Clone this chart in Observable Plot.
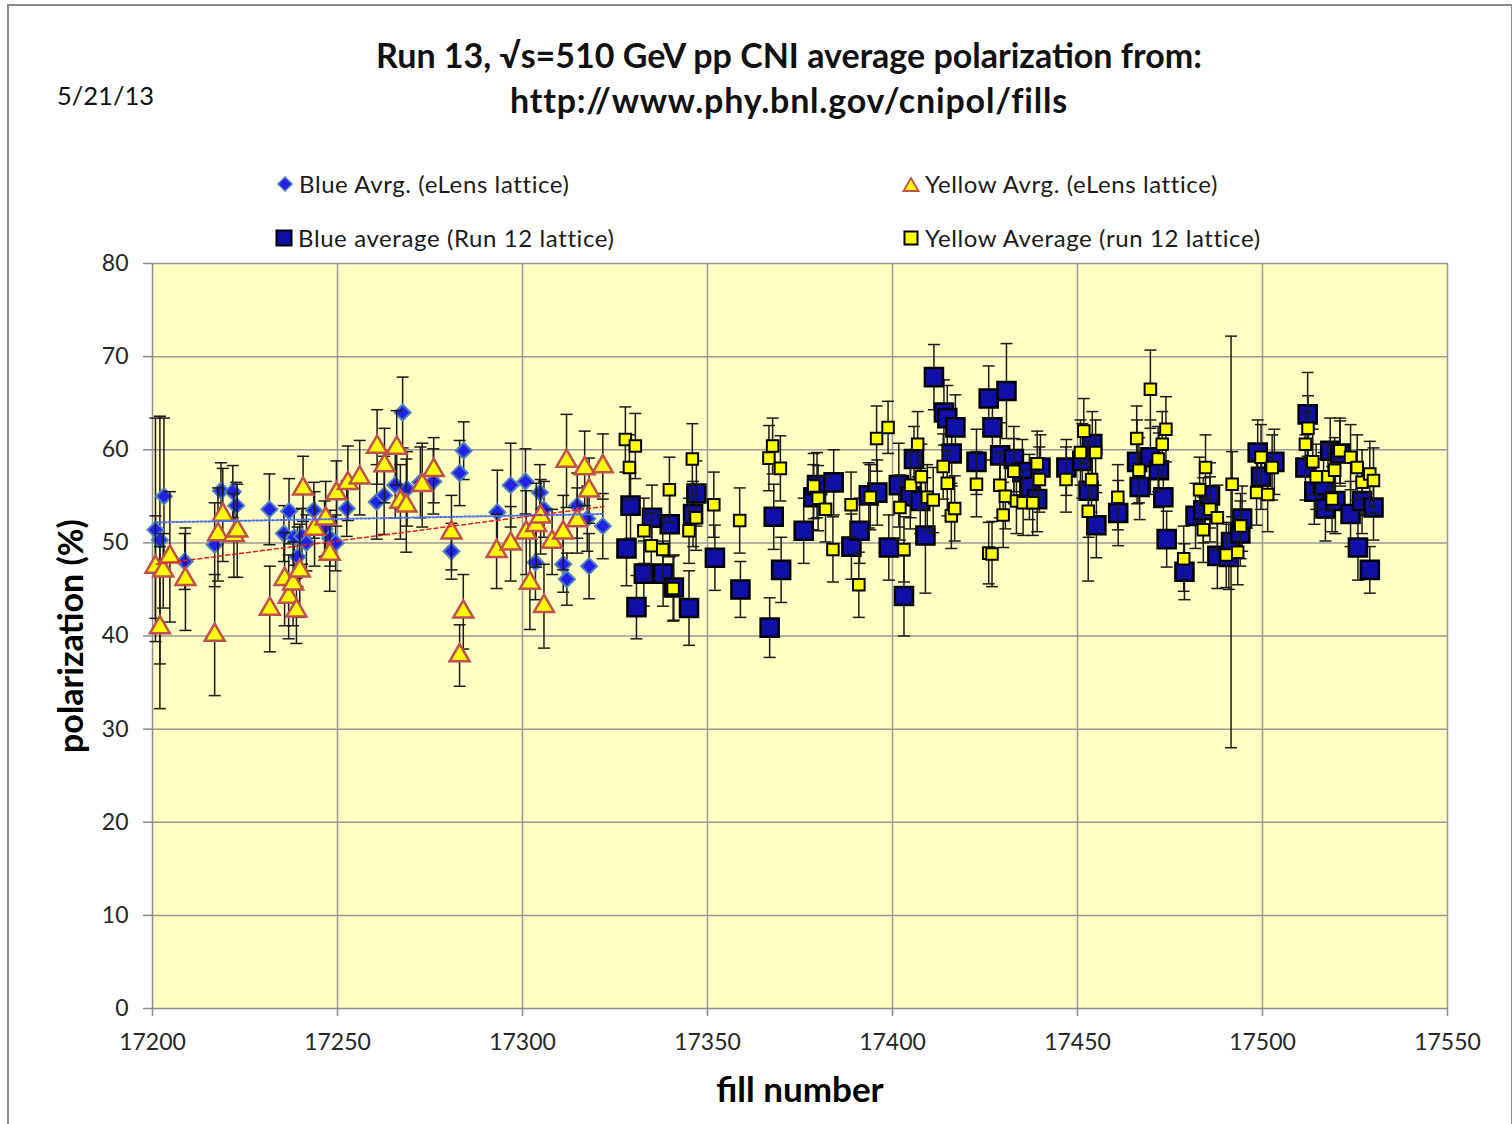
<!DOCTYPE html>
<html><head><meta charset="utf-8">
<script src="https://cdn.jsdelivr.net/npm/d3@7"></script>
<script src="https://cdn.jsdelivr.net/npm/@observablehq/plot@0.6"></script>
<style>
body{margin:0;background:#fff;font-family:Lato,"Open Sans",sans-serif;}
#wrap{position:relative;width:1512px;height:1124px;overflow:hidden;}
#head{position:relative;height:240px;}
.t{position:absolute;white-space:nowrap;color:#111;line-height:1;}
.leg{position:absolute;display:flex;align-items:center;font-size:24px;letter-spacing:0.6px;color:#1a1a1a;white-space:nowrap;line-height:1;}
.leg svg{margin-right:5px;}
#chart svg{display:block;}
#border{position:absolute;left:7px;top:4px;width:1502px;height:1140px;border:2px solid #8c8c8c;pointer-events:none;}
</style></head><body>
<div id="wrap">
  <div id="head">
    <div class="t" style="left:0;width:1578px;text-align:center;top:38px;font-size:34px;font-weight:700;">Run 13, √s=510 GeV pp CNI average polarization from:</div>
    <div class="t" style="left:0;width:1578px;text-align:center;top:83px;font-size:34px;font-weight:700;letter-spacing:0.8px;">http://www.phy.bnl.gov/cnipol/fills</div>
    <div class="t" style="left:57px;top:83px;font-size:25.5px;">5/21/13</div>
    <div class="leg" style="left:276px;top:172px;"><svg width="18" height="18"><path d="M9 2L16 9L9 16L2 9Z" fill="#2222E6" stroke="#4F81BD" stroke-width="1.5"/></svg>Blue Avrg. (eLens lattice)</div>
    <div class="leg" style="left:902px;top:172px;"><svg width="18" height="17"><path d="M9 2L16.5 15L1.5 15Z" fill="#FFFF00" stroke="#C0504D" stroke-width="1.8"/></svg>Yellow Avrg. (eLens lattice)</div>
    <div class="leg" style="left:275px;top:226px;"><svg width="18" height="18"><rect x="1.5" y="1.5" width="15" height="15" fill="#1010A8" stroke="#000" stroke-width="2"/></svg>Blue average (Run 12 lattice)</div>
    <div class="leg" style="left:902px;top:226px;"><svg width="18" height="18"><rect x="2.5" y="2.5" width="13" height="13" fill="#FFFF00" stroke="#000" stroke-width="2"/></svg>Yellow Average (run 12 lattice)</div>
  </div>
  <div id="chart"></div>
  <div id="border"></div>
</div>
<script>
// ---- data: [fill number, polarization %, error] ----
const blueElens = [
[17200.8,51.4,12.0],[17202.0,50.3,13.3],[17203.1,55.0,8.4],[17208.7,48.0,3.0],[17216.8,49.8,4.5],
[17218.5,55.6,3.0],[17221.7,55.5,2.8],[17222.6,54.0,2.5],[17231.6,53.6,3.8],[17235.5,51.0,3.0],
[17236.9,53.4,3.5],[17238.3,50.6,3.0],[17239.2,48.5,3.2],[17240.4,50.7,3.0],[17241.6,50.0,3.0],
[17243.6,53.5,3.0],[17246.5,51.5,3.0],[17248.0,50.5,3.0],[17249.5,50.0,3.0],[17252.5,53.7,3.0],
[17260.6,54.4,4.0],[17262.6,55.1,4.2],[17265.6,56.2,3.5],[17267.6,64.0,3.8],[17268.8,55.8,4.0],
[17272.4,56.5,3.8],[17275.9,56.6,3.5],[17280.8,49.1,3.0],[17283.0,57.5,3.5],[17284.1,59.9,3.1],
[17293.2,53.3,4.5],[17296.8,56.2,4.5],[17300.8,56.6,3.5],[17303.5,47.9,4.0],[17304.7,55.4,3.0],
[17305.8,53.6,3.0],[17311.0,47.7,3.0],[17312.0,46.1,2.8],[17314.8,54.0,3.5],[17317.5,52.6,3.5],
[17318.0,47.5,3.5],[17321.7,51.8,3.5]
];
const yellowElens = [
[17200.8,47.4,5.5],[17202.0,40.9,8.7],[17202.9,47.0,4.0],[17204.7,48.5,7.0],[17208.9,46.1,5.5],
[17216.8,40.1,6.5],[17217.7,50.9,5.0],[17219.0,53.0,5.0],[17222.0,50.8,4.5],[17222.9,51.3,5.0],
[17231.7,42.9,4.6],[17235.7,46.1,5.0],[17236.8,44.2,4.5],[17238.0,45.6,4.5],[17238.9,42.7,3.5],
[17239.8,47.0,5.0],[17240.7,55.8,3.5],[17243.8,51.5,4.0],[17246.8,52.6,4.0],[17247.9,48.8,4.0],
[17249.7,55.3,3.5],[17252.8,56.4,4.0],[17256.0,57.0,4.0],[17260.7,60.3,4.0],[17262.7,58.3,4.0],
[17266.0,60.2,4.0],[17267.0,54.4,4.0],[17268.6,54.0,5.0],[17272.9,56.2,4.5],[17276.0,57.8,3.5],
[17280.8,51.1,4.0],[17283.0,37.9,3.3],[17284.0,42.6,4.0],[17293.0,49.1,4.0],[17296.8,49.9,4.0],
[17301.0,51.1,4.5],[17302.0,45.7,5.0],[17303.7,51.9,4.5],[17304.9,52.8,4.0],[17305.8,43.2,4.5],
[17308.0,50.1,3.5],[17311.0,51.1,4.0],[17311.9,58.8,5.0],[17314.8,52.4,3.5],[17316.8,58.0,4.0],
[17318.0,55.6,3.5],[17321.7,58.2,3.5]
];
const blueRun12 = [
[17328.1,49.4,4.0],[17329.2,54.0,3.5],[17330.8,43.1,3.4],[17332.8,46.7,3.5],[17335.0,52.7,3.5],
[17338.0,46.7,3.5],[17339.8,52.0,3.5],[17340.9,45.2,3.5],[17345.0,43.0,4.0],[17346.1,53.1,3.5],
[17347.0,55.3,3.5],[17352.0,48.4,3.5],[17358.9,45.0,3.0],[17366.8,40.9,3.2],[17367.9,52.8,3.5],
[17369.9,47.1,3.5],[17376.0,51.3,3.5],[17378.6,54.9,3.5],[17379.6,56.2,3.5],[17384.1,56.5,3.5],
[17388.9,49.6,3.5],[17391.1,51.3,3.5],[17393.6,55.1,3.5],[17395.9,55.4,3.5],[17399.0,49.5,3.5],
[17401.7,56.2,4.5],[17403.1,44.3,4.3],[17404.8,55.0,3.5],[17405.8,59.0,3.5],[17407.5,54.5,3.5],
[17408.9,50.8,6.2],[17411.2,67.8,3.5],[17413.9,64.0,3.5],[17414.8,63.4,3.5],[17416.0,59.6,3.5],
[17417.0,62.4,3.5],[17422.7,58.7,3.5],[17426.0,65.5,3.5],[17427.0,62.4,3.5],[17429.1,59.4,3.5],
[17430.8,66.3,5.1],[17432.8,59.0,3.5],[17435.1,57.6,3.5],[17437.0,56.0,3.5],[17439.1,54.7,3.5],
[17440.0,58.1,3.5],[17447.0,58.1,3.0],[17451.3,58.8,4.0],[17453.0,55.6,5.0],[17454.0,60.6,3.5],
[17455.1,51.9,3.5],[17461.0,53.2,3.5],[17466.1,58.7,4.5],[17466.8,56.0,3.5],[17469.7,59.2,4.0],
[17472.0,57.8,4.0],[17473.2,54.9,3.5],[17474.1,50.4,3.0],[17478.9,46.9,3.0],[17481.9,52.9,3.5],
[17484.0,53.5,3.5],[17485.8,55.1,3.5],[17487.8,48.6,3.5],[17490.9,48.5,3.5],[17491.5,50.1,22.1],
[17494.0,51.0,3.5],[17494.5,52.6,3.5],[17498.7,59.7,3.5],[17499.6,57.1,3.5],[17503.2,58.7,3.5],
[17511.6,58.1,3.5],[17512.2,63.8,4.5],[17514.0,55.5,3.5],[17516.5,56.2,3.5],[17517.0,53.7,3.5],
[17518.3,59.9,3.5],[17519.7,54.5,3.5],[17521.0,59.6,3.5],[17523.8,53.1,3.5],[17525.8,49.5,3.5],
[17526.9,54.5,3.5],[17529.0,47.1,2.5],[17530.0,53.8,3.5]
];
const yellowRun12 = [
[17327.8,61.1,3.5],[17328.9,58.1,3.5],[17330.5,60.4,3.5],[17332.8,51.3,3.5],[17334.8,49.7,3.5],
[17337.9,49.3,3.5],[17339.7,55.7,3.5],[17340.7,45.1,3.5],[17345.0,51.3,3.5],[17345.9,59.0,3.8],
[17346.9,52.7,3.5],[17351.7,54.1,3.5],[17358.7,52.4,3.5],[17366.6,59.1,3.5],[17367.6,60.4,3.0],
[17369.7,58.0,3.5],[17378.7,56.1,3.5],[17379.9,54.8,3.5],[17381.9,53.6,3.5],[17383.9,49.3,3.5],
[17388.8,54.1,3.5],[17390.9,45.5,3.5],[17394.0,54.9,3.5],[17395.7,61.2,3.5],[17398.8,62.4,2.8],
[17402.0,53.8,3.5],[17403.1,49.3,3.5],[17404.9,56.2,3.5],[17406.8,60.6,3.5],[17407.8,57.1,3.5],
[17409.4,54.9,3.5],[17411.0,54.6,3.5],[17413.7,58.2,3.5],[17414.8,56.4,3.5],[17415.9,52.9,3.5],
[17416.8,53.7,3.5],[17422.7,56.3,3.5],[17426.0,48.9,3.3],[17426.9,48.8,3.5],[17429.0,56.2,3.5],
[17429.9,53.0,3.5],[17430.5,55.0,3.5],[17432.8,57.7,3.5],[17433.5,54.5,3.5],[17435.3,54.3,3.5],
[17437.9,54.3,3.5],[17439.1,58.5,3.5],[17439.7,56.8,3.5],[17446.9,56.8,3.5],[17450.8,59.7,3.5],
[17451.7,62.0,3.5],[17452.9,53.4,7.5],[17453.8,56.8,3.5],[17454.9,59.7,3.5],[17460.9,54.9,3.5],
[17466.0,61.2,3.5],[17466.6,57.8,3.5],[17469.7,66.5,4.2],[17471.8,59.0,3.5],[17472.9,60.6,3.5],
[17473.9,62.2,3.5],[17478.7,48.3,3.5],[17483.0,55.7,3.5],[17484.0,51.4,3.5],[17484.6,58.1,3.5],
[17485.8,53.6,3.5],[17487.8,52.7,3.5],[17490.2,48.7,3.5],[17491.8,56.3,3.5],[17493.3,49.0,3.5],
[17494.1,51.8,3.5],[17498.4,55.4,3.5],[17499.6,59.2,3.5],[17501.4,55.2,4.0],[17502.6,58.1,3.5],
[17511.6,60.6,3.5],[17512.3,62.3,3.5],[17513.6,58.7,3.5],[17514.5,57.1,3.5],[17517.7,57.1,3.5],
[17518.8,54.7,3.5],[17519.5,57.8,3.5],[17520.9,59.9,3.5],[17523.8,59.2,3.5],[17525.6,58.1,3.5],
[17526.9,56.5,3.5],[17529.0,57.4,3.5],[17530.0,56.7,3.5]
];
// linear trend lines (eLens lattice), endpoints
const trendBlue = [[17201,52.2],[17322,53.1]];
const trendYellow = [[17201,47.7],[17322,53.9]];
const xTicks = [17200,17250,17300,17350,17400,17450,17500,17550];
const yTicks = [0,10,20,30,40,50,60,70,80];

// ---- rendering ----
const cap = {draw(ctx, size){ const h = Math.sqrt(size/Math.PI); ctx.moveTo(-h,0); ctx.lineTo(h,0); }};
const fx = d => d[0], fy = d => d[1];
function errorBars(rows){
  const ends = rows.flatMap(d => [[d[0], d[1]-d[2]], [d[0], d[1]+d[2]]]);
  return [
    Plot.ruleX(rows, {x: fx, y1: d => d[1]-d[2], y2: d => d[1]+d[2], stroke: "#1a1a1a", strokeWidth: 1.5}),
    Plot.dot(ends, {x: fx, y: fy, symbol: cap, r: 6, fill: "none", stroke: "#1a1a1a", strokeWidth: 1.5})
  ];
}

const chart = Plot.plot({
  width: 1512, height: 884,
  marginTop: 23, marginBottom: 116, marginLeft: 152, marginRight: 65,
  style: {fontFamily: "Lato, 'Open Sans', sans-serif", fontSize: "22px", background: "transparent", color: "#222", overflow: "visible"},
  x: {domain: [17200, 17550]},
  y: {domain: [0, 80]},
  marks: [
    Plot.frame({fill: "#FFFFC4", stroke: "none"}),
    Plot.gridY(yTicks.filter(d => d > 0), {stroke: "#999", strokeOpacity: 1, strokeWidth: 1.5}),
    Plot.gridX(xTicks.filter(d => d > 17200), {stroke: "#999", strokeOpacity: 1, strokeWidth: 1.5}),
    Plot.ruleY([0], {stroke: "#8c8c8c", strokeWidth: 1.5}),
    Plot.ruleX([17200], {stroke: "#8c8c8c", strokeWidth: 1.5}),
    Plot.axisY({ticks: yTicks, tickSize: 9, tickPadding: 15, stroke: "#8c8c8c", strokeWidth: 1.5, color: "#262626", fontSize: 23, label: null}),
    Plot.axisX({ticks: xTicks, tickFormat: d => String(d), tickSize: 8, tickPadding: 17, stroke: "#8c8c8c", strokeWidth: 1.5, color: "#262626", fontSize: 23, label: null}),
    Plot.text(["polarization (%)"], {frameAnchor: "left", dx: -80, rotate: -90, textAnchor: "middle", lineAnchor: "middle", fontSize: 34, fontWeight: "bold", fill: "#000"}),
    Plot.text(["fill number"], {frameAnchor: "bottom", dy: 82, textAnchor: "middle", lineAnchor: "middle", fontSize: 35, fontWeight: "bold", fill: "#000"}),
    ...errorBars(blueElens),
    Plot.dot(blueElens, {x: fx, y: fy, symbol: "diamond2", r: 7.2, fill: "#2222E6", stroke: "#4F81BD", strokeWidth: 2}),
    ...errorBars(yellowElens),
    Plot.dot(yellowElens, {x: fx, y: fy, symbol: "triangle", r: 7.4, fill: "#FFFF00", stroke: "#C0504D", strokeWidth: 2.5}),
    Plot.line(trendBlue, {x: fx, y: fy, stroke: "#4F6FE8", strokeWidth: 2, strokeDasharray: "2,2"}),
    Plot.line(trendYellow, {x: fx, y: fy, stroke: "#E02020", strokeWidth: 1.5, strokeDasharray: "4,3"}),
    ...errorBars(blueRun12),
    Plot.dot(blueRun12, {x: fx, y: fy, symbol: "square", r: 10.2, fill: "#1010A8", stroke: "#000", strokeWidth: 2.5}),
    ...errorBars(yellowRun12),
    Plot.dot(yellowRun12, {x: fx, y: fy, symbol: "square", r: 6.5, fill: "#FFFF00", stroke: "#000", strokeWidth: 2})
  ]
});
document.getElementById("chart").appendChild(chart);
</script>
</body></html>
